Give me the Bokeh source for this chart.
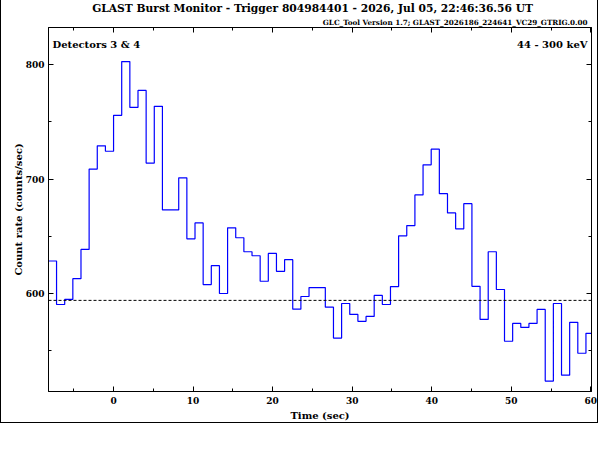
from bokeh.plotting import figure
from bokeh.models import (Range1d, LinearAxis, SingleIntervalTicker, Label, Span,
                          Title, CustomJSTickFormatter)
from bokeh.embed import file_html
from bokeh.resources import INLINE

# ---------------- data ----------------
bin_width = 1.024
bin_index = list(range(-8, 59))
count_rate = [628.4, 590.4, 594.8, 613.0, 638.5, 708.7, 729.0, 724.3,
              755.7, 802.6, 762.6, 777.4, 714.0, 763.5, 673.0, 673.0, 701.1,
              647.8, 661.7, 607.8, 624.3, 600.0, 657.4, 648.7, 636.5, 633.0,
              610.7, 635.0, 619.4, 629.6, 586.3, 597.4, 605.2, 605.2, 588.1,
              561.1, 591.3, 581.7, 575.7, 580.0, 598.3, 590.4, 606.1, 650.4,
              659.4, 686.1, 712.4, 726.1, 687.2, 670.4, 656.5, 678.5, 606.3,
              577.4, 636.5, 603.5, 558.3, 573.9, 570.4, 573.9, 586.1, 523.5,
              591.3, 528.7, 574.8, 547.8, 565.2]
background_rate = 594.0

title_text = "GLAST Burst Monitor  -  Trigger 804984401  -  2026, Jul 05, 22:46:36.56 UT"
subtitle_text = "GLC_Tool Version 1.7; GLAST_2026186_224641_VC29_GTRIG.0.00"
detector_text = "Detectors 3 & 4"
energy_text = "44 - 300 keV"
x_label = "Time (sec)"
y_label = "Count rate (counts/sec)"

x_lo, x_hi = -8.18, 60.09
y_lo, y_hi = 514.4, 832.4

# step edges
t_edges = [k * bin_width for k in bin_index] + [(bin_index[-1] + 1) * bin_width]
rates = count_rate + [count_rate[-1]]

FONT = "DejaVu Serif"

p = figure(width=598, height=423,
           x_range=Range1d(x_lo, x_hi), y_range=Range1d(y_lo, y_hi),
           x_axis_location=None, y_axis_location=None,
           output_backend="svg", toolbar_location=None,
           min_border_left=47, min_border_right=8,
           min_border_top=27, min_border_bottom=30,
           background_fill_color="white", border_fill_color="white",
           styles={"border-left": "1px solid black",
                   "border-right": "1px solid black",
                   "border-bottom": "1px solid black"})
p.grid.visible = False
p.outline_line_color = "black"
p.outline_line_width = 1

p.step(t_edges, rates, mode="after", line_color="#0000ff", line_width=1.2)

p.add_layout(Span(location=background_rate, dimension="width",
                  line_color="black", line_dash="3 2", line_width=1))

xt = SingleIntervalTicker(interval=10, num_minor_ticks=2)
yt = SingleIntervalTicker(interval=100, num_minor_ticks=2)
blank = CustomJSTickFormatter(code="return '';")

bottom_axis = LinearAxis(ticker=xt, axis_label=x_label)
left_axis = LinearAxis(ticker=yt, axis_label=y_label)
top_axis = LinearAxis(ticker=xt, formatter=blank)
right_axis = LinearAxis(ticker=yt, formatter=blank)
p.add_layout(bottom_axis, "below")
p.add_layout(left_axis, "left")
p.add_layout(top_axis, "above")
p.add_layout(right_axis, "right")

for ax in [bottom_axis, left_axis, top_axis, right_axis]:
    ax.major_tick_in = 5
    ax.major_tick_out = 0
    ax.minor_tick_in = 3
    ax.minor_tick_out = 0
    ax.axis_line_color = "black"
    ax.major_tick_line_color = "black"
    ax.minor_tick_line_color = "black"
    ax.major_label_text_font = FONT
    ax.major_label_text_font_style = "bold"
    ax.major_label_text_font_size = "9px"
    ax.major_label_text_color = "black"

for ax in [top_axis, right_axis]:
    ax.major_label_text_font_size = "1px"
    ax.major_label_standoff = 0

for ax in [bottom_axis, left_axis]:
    ax.axis_label_text_font = FONT
    ax.axis_label_text_font_style = "bold"
    ax.axis_label_text_font_size = "10px"
    ax.axis_label_text_color = "black"
bottom_axis.axis_label_standoff = 3
left_axis.axis_label_standoff = -1
bottom_axis.major_label_standoff = 5
left_axis.major_label_standoff = 4

# titles: first added sits nearest the frame
p.add_layout(Title(text=subtitle_text, align="right", offset=4, standoff=2,
                   text_font=FONT, text_font_style="bold", text_font_size="7.2px",
                   text_color="black"), "above")
p.add_layout(Title(text=title_text, align="center", standoff=-1,
                   text_font=FONT, text_font_style="bold", text_font_size="10.7px",
                   text_color="black"), "above")

p.add_layout(Label(x=x_lo, y=y_hi, x_offset=4, y_offset=-17.3, text=detector_text,
                   text_align="left", text_baseline="alphabetic",
                   text_font=FONT, text_font_style="bold", text_font_size="10px",
                   text_color="black"))
p.add_layout(Label(x=x_hi, y=y_hi, x_offset=-4, y_offset=-17.3, text=energy_text,
                   text_align="right", text_baseline="alphabetic",
                   text_font=FONT, text_font_style="bold", text_font_size="10px",
                   text_color="black"))

open("out.html", "w").write(file_html(p, INLINE))
